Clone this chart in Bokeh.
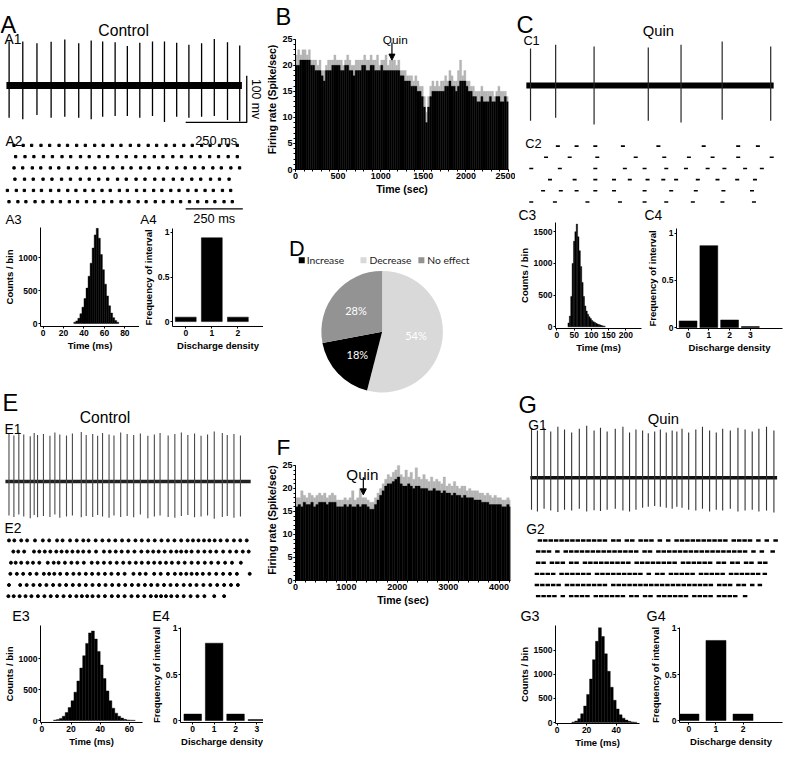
import math
from bokeh.plotting import figure
from bokeh.models import Range1d, Label, Arrow, NormalHead, FixedTicker, AllLabels, Title
from bokeh.layouts import row, column
from bokeh.embed import file_html
from bokeh.resources import INLINE

# ====================== DATA ======================
# A1 control recording: spike times (ms), peak and trough (mV)
a1_spike_ms = [7, 63, 121, 179, 235, 292, 343, 390, 441, 491, 542, 594, 643, 693, 743, 795, 847, 901, 951]
a1_spike_top = [94, 94, 90, 93, 98, 90, 96, 94, 92, 84, 91, 94, 94, 91, 87, 90, 99, 92, 85]
a1_spike_bot = [-69, -72, -63, -69, -67, -69, -72, -67, -65, -65, -69, -65, -78, -67, -69, -67, -65, -74, -77]
a1_span_ms = [-4, 960]
# A2 raster (ms), 6 sweeps
a2_rows = [
    [29, 69, 106, 147, 185, 226, 263, 303, 341, 382, 419, 459, 497, 538, 575, 616, 653, 694, 731, 772, 809, 850, 887, 928, 965, 1006],
    [36, 77, 116, 158, 197, 239, 277, 320, 358, 401, 439, 481, 520, 562, 601, 643, 681, 724, 762, 805, 843, 885, 924, 966, 1006],
    [29, 67, 109, 146, 188, 225, 267, 304, 346, 383, 425, 462, 504, 541, 583, 620, 662, 699, 741, 778, 820, 857, 899, 936, 978, 1016],
    [33, 75, 113, 156, 195, 237, 276, 319, 358, 400, 439, 482, 520, 563, 602, 645, 683, 726, 765, 807, 846, 889, 928, 970],
    [0, 39, 74, 114, 149, 189, 225, 264, 300, 339, 375, 414, 450, 490, 525, 565, 600, 640, 676, 715, 751, 790, 826, 865, 901, 941, 977],
    [7, 46, 81, 121, 156, 196, 232, 271, 307, 346, 382, 421, 457, 497, 532, 572, 607, 647, 683, 722, 758, 797, 833, 872, 908, 948, 984],
]
# A3 inter-spike interval histogram (2 ms bins)
a3_bin_ms = [30, 32, 34, 36, 38, 40, 42, 44, 46, 48, 50, 52, 54, 56, 58, 60, 62, 64, 66, 68, 70, 72]
a3_counts = [20, 40, 80, 150, 250, 380, 540, 720, 920, 1150, 1350, 1450, 1300, 1050, 820, 600, 420, 270, 160, 90, 45, 20]
# A4 discharge density
a4_density = [0, 1, 2]
a4_freq = [0.05, 0.94, 0.05]

# B firing rate (25 s bins)
b_bin_s = 25
b_rate = [20, 20, 21, 21, 21, 21, 21, 20, 20, 19,
          19, 19, 18, 17, 19, 19, 19, 20, 20, 20,
          20, 19, 19, 20, 20, 19, 19, 18, 19, 19,
          19, 20, 20, 19, 19, 20, 20, 19, 19, 19,
          20, 19, 19, 19, 19, 19, 19, 19, 19, 18,
          18, 17, 17, 17, 16, 16, 16, 15, 15, 14,
          12, 9, 12, 14, 15, 15, 15, 15, 15, 15,
          16, 16, 17, 16, 16, 15, 16, 17, 17, 17,
          16, 15, 15, 14, 14, 13, 13, 14, 13, 13,
          13, 14, 13, 13, 14, 14, 13, 13, 14, 13]
b_peak = [22, 23, 22, 23, 23, 22, 23, 21, 21, 21,
          20, 21, 19, 19, 20, 21, 21, 21, 22, 21,
          21, 21, 20, 21, 22, 21, 20, 20, 21, 21,
          21, 21, 22, 21, 21, 22, 21, 21, 22, 20,
          21, 21, 22, 20, 21, 21, 21, 20, 21, 19,
          19, 19, 18, 18, 18, 17, 18, 17, 16, 16,
          14, 11, 14, 16, 17, 16, 17, 16, 17, 17,
          18, 17, 19, 18, 17, 17, 19, 21, 18, 19,
          17, 17, 16, 16, 15, 15, 15, 16, 15, 15,
          15, 15, 15, 14, 15, 16, 15, 15, 15, 14]
b_quin_s = 1132

# C1 quinpirole recording
c1_spike_ms = [17, 119, 275, 495, 628, 795, 992]
c1_spike_top = [79, 87, 83, 81, 87, 94, 83]
c1_spike_bot = [-75, -69, -83, -75, -79, -73, -75]
c1_span_ms = [0, 1004]
c2_rows = [
    [128, 204, 280, 392, 536, 720, 860, 940],
    [80, 176, 288, 444, 560, 660, 756, 860, 996],
    [20, 136, 280, 400, 480, 568, 648, 736, 804, 888, 956],
    [96, 196, 280, 356, 420, 492, 556, 608, 696, 776, 856, 928],
    [68, 140, 204, 280, 356, 480, 588, 688, 800, 916],
    [20, 116, 248, 380, 480, 568, 676, 796, 924],
]
c3_bin_ms = [32, 36, 40, 44, 48, 52, 56, 60, 64, 68, 72, 76, 80, 84, 88, 92, 96, 100, 104, 108, 112, 116, 120, 124, 128, 132, 136]
c3_counts = [60, 170, 480, 1000, 1350, 1500, 1620, 1420, 1200, 950, 700, 480, 330, 250, 200, 160, 130, 100, 80, 70, 55, 45, 35, 30, 20, 15, 10]
c4_density = [0, 1, 2, 3]
c4_freq = [0.07, 0.87, 0.08, 0.01]

# D pie
d_labels = ["Increase", "Decrease", "No effect"]
d_pct = [18, 54, 28]
d_colors = ["#000000", "#d9d9d9", "#939393"]
d_order = [1, 0, 2]  # clockwise from 12 o'clock

# E1 control recording
e1_spike_ms = [18, 43, 68, 93, 126, 146, 163, 193, 226, 251, 276, 310, 340, 385, 410, 443, 468, 493, 526, 551,
               585, 618, 651, 685, 723, 756, 785, 826, 860, 893, 926, 960, 993, 1026, 1060, 1101, 1126, 1160, 1193]
e1_spike_top = [102, 98, 104, 100, 96, 103, 99, 101, 97, 104, 100, 98, 102, 105, 99, 101, 97, 103, 100, 98,
                104, 101, 99, 102, 97, 100, 103, 98, 101, 104, 99, 102, 97, 100, 106, 103, 99, 101, 98]
e1_spike_bot = [-72, -75, -70, -74, -78, -71, -76, -73, -75, -70, -77, -74, -72, -76, -73, -75, -71, -74, -77, -72,
                -75, -73, -76, -70, -78, -74, -72, -75, -77, -73, -71, -76, -74, -72, -79, -75, -73, -77, -74]
e1_span_ms = [0, 1245]
e2_rows = [
    [18, 45, 80, 110, 150, 190, 222, 262, 290, 328, 362, 395, 422, 458, 492, 525, 558, 592, 625, 660, 692, 725, 758, 792, 825, 858, 892, 925, 952, 980, 1008, 1035, 1062, 1092, 1125, 1160, 1192, 1225],
    [40, 65, 95, 145, 172, 200, 228, 258, 285, 312, 340, 368, 395, 425, 460, 500, 530, 560, 590, 622, 655, 690, 722, 750, 778, 808, 840, 868, 892, 918, 945, 978, 1010, 1040, 1070, 1105, 1140, 1172, 1205, 1235],
    [28, 52, 80, 112, 140, 172, 215, 245, 270, 302, 335, 365, 398, 438, 468, 500, 532, 565, 598, 630, 662, 692, 725, 755, 785, 815, 845, 878, 910, 945, 978, 1012, 1045, 1080, 1115, 1150, 1195],
    [25, 58, 90, 125, 158, 195, 222, 248, 278, 312, 345, 375, 408, 440, 472, 505, 538, 572, 605, 650, 682, 712, 755, 788, 825, 860, 890, 918, 945, 972, 1002, 1035, 1070, 1105, 1140, 1175, 1240],
    [18, 75, 108, 142, 175, 208, 242, 275, 308, 342, 375, 408, 442, 475, 508, 542, 575, 608, 642, 675, 708, 740, 772, 805, 838, 870, 905, 938, 970, 1005, 1040, 1075, 1110, 1145, 1180],
    [15, 42, 72, 102, 132, 165, 198, 230, 262, 295, 328, 360, 388, 415, 442, 472, 505, 540, 572, 605, 640, 672, 705, 738, 765, 790, 815, 842, 872, 905, 940, 975, 1010, 1060, 1110],
]
e3_bin_ms = [8, 10, 12, 14, 16, 18, 20, 22, 24, 26, 28, 30, 32, 34, 36, 38, 40, 42, 44, 46, 48, 50, 52, 54, 56, 58, 60, 62]
e3_counts = [8, 15, 35, 70, 130, 210, 320, 460, 640, 850, 1050, 1250, 1420, 1450, 1320, 1120, 900, 680, 480, 320, 200, 120, 70, 40, 20, 10, 6, 4]
e4_density = [0, 1, 2, 3]
e4_freq = [0.07, 0.84, 0.07, 0.01]

# F firing rate (50 s bins)
f_bin_s = 50
f_rate = [16, 16.5, 16, 17, 16.5, 16.5, 17, 16, 16.5, 17,
          17, 17, 16.5, 17, 17, 17, 16, 16, 16, 16.5,
          16, 16.5, 16, 16, 16.5, 16, 16.5, 16.5, 16, 15.5,
          15.5, 16.5, 17.5, 18.5, 19.5, 20.5, 21, 21, 21.5, 22,
          22.5, 21, 20.5, 20.5, 21, 20.5, 20, 20.5, 20.5, 20,
          20, 20, 19.5, 19.5, 20, 19.5, 19.5, 19, 19.5, 19,
          19, 18.5, 19, 18.5, 18.5, 18, 18.5, 18, 18, 18,
          17.5, 17.5, 17.5, 17, 17, 17, 16.5, 16.5, 16.5, 16.5,
          16.5, 16, 16, 16.5, 16]
f_peak = [18, 18, 19.5, 18.5, 18, 19, 18.5, 18, 18.5, 19,
          18.5, 19, 18, 18.5, 19, 18.5, 17.5, 17.5, 17.5, 18,
          17.5, 18, 19.5, 17.5, 18, 20, 18, 18, 17.5, 17,
          17, 18, 19, 20, 21, 22, 23, 22.5, 23.5, 24,
          25, 23, 22.5, 24, 22.5, 23.5, 22, 24.5, 22.5, 22,
          23, 22, 21.5, 22.5, 21.5, 22, 21.5, 21, 22.5, 20.5,
          21, 20.5, 21.5, 20.5, 20, 20.5, 20.5, 19.5, 20, 19.5,
          19.5, 19.5, 19, 19, 18.5, 19, 18.5, 18, 18.5, 18,
          18, 17.5, 17.5, 18, 17.5]
f_quin_s = 1333

# G1 quinpirole recording
g1_spike_ms = [13, 37, 64, 91, 120, 147, 176, 207, 237, 267, 293, 320, 353, 384, 411, 437, 464, 487, 513, 536,
               560, 584, 603, 624, 651, 680, 707, 736, 763, 789, 820, 851, 880, 909, 936, 967, 997]
g1_spike_top = [104, 100, 106, 98, 108, 102, 96, 104, 110, 100, 106, 98, 104, 108, 96, 102, 100, 94, 98, 102,
                96, 100, 98, 104, 96, 102, 108, 100, 96, 104, 100, 106, 102, 98, 104, 108, 100]
g1_spike_bot = [-68, -72, -66, -70, -73, -68, -70, -66, -72, -69, -71, -68, -66, -70, -72, -68, -64, -62, -60, -62,
                -64, -66, -62, -64, -68, -70, -66, -72, -68, -70, -66, -72, -70, -68, -72, -70, -74]
g1_span_ms = [8, 1010]
g2_rows = [
    [47, 69, 91, 113, 135, 157, 179, 201, 223, 245, 267, 289, 311, 345, 367, 400, 422, 456, 478, 500, 534, 568, 602, 624, 646, 668, 690, 712, 734, 756, 778, 800, 834, 856, 878, 900, 934, 968, 1004],
    [40, 62, 84, 118, 152, 174, 196, 218, 240, 262, 284, 306, 328, 350, 372, 394, 416, 438, 472, 494, 528, 550, 572, 594, 616, 638, 660, 682, 704, 726, 748, 770, 792, 814, 836, 858, 880, 914, 948, 992],
    [40, 62, 96, 118, 140, 174, 196, 230, 252, 274, 296, 318, 340, 362, 384, 406, 440, 462, 484, 506, 528, 550, 572, 594, 628, 650, 672, 694, 716, 738, 772, 794, 828, 850, 884, 906, 940, 962],
    [35, 57, 79, 101, 135, 157, 179, 201, 223, 245, 279, 301, 323, 345, 367, 389, 411, 433, 455, 489, 523, 545, 579, 601, 623, 645, 667, 701, 723, 745, 767, 789, 823, 845, 867, 889, 911, 933, 960],
    [35, 57, 79, 101, 123, 157, 179, 201, 223, 245, 267, 289, 311, 345, 367, 389, 411, 433, 455, 477, 499, 521, 543, 565, 587, 609, 631, 653, 675, 697, 719, 741, 775, 797, 819, 853, 875, 909, 940],
    [40, 62, 84, 106, 140, 174, 196, 218, 240, 274, 296, 318, 340, 362, 384, 418, 440, 474, 496, 530, 552, 574, 596, 618, 640, 674, 696, 718, 740, 774, 796, 818, 840, 880],
]
g3_bin_ms = [10, 12, 14, 16, 18, 20, 22, 24, 26, 28, 30, 32, 34, 36, 38, 40, 42, 44, 46, 48, 50, 52]
g3_counts = [10, 30, 80, 180, 340, 580, 900, 1300, 1680, 1960, 1780, 1420, 1060, 730, 460, 280, 160, 90, 50, 25, 12, 6]
g4_density = [0, 1, 2]
g4_freq = [0.07, 0.87, 0.07]

SCALE_MS = 250
SCALE_MV = 100

# ====================== LAYOUT HELPERS ======================
F_REG = "Liberation Sans"
F_AX = "Liberation Sans"
F_PIE = "Lato"
SX = 784.0 / 797.0
SY = 752.0 / 768.0
COL1, COL2 = 270, 527   # column boundaries (reference px)


def LX(r):
    return int(round((r - 3) * SX))


def LY(r):
    return int(round(r * SY))


def lin(p0, v0, p1, v1):
    k = (v1 - v0) / (p1 - p0)
    return lambda p: v0 + (p - p0) * k


def panel(box, fx, fy, frame=None, axes=False, letter=None, letter_x=None, letter_size=24):
    x0, x1, y0, y1 = box
    fr = frame or box
    p = figure(width=LX(x1) - LX(x0), height=LY(y1) - LY(y0),
               x_range=Range1d(fx(fr[0]), fx(fr[1])), y_range=Range1d(fy(fr[3]), fy(fr[2])),
               output_backend="svg", toolbar_location=None,
               title_location="above" if letter else None,
               x_axis_location="below" if axes else None,
               y_axis_location="left" if axes else None,
               min_border=0,
               min_border_left=LX(fr[0]) - LX(x0), min_border_right=LX(x1) - LX(fr[1]),
               min_border_top=LY(fr[2]) - LY(y0), min_border_bottom=LY(y1) - LY(fr[3]))
    if letter:
        # panel letter drawn as the plot title, sitting left of the frame
        p.title = Title(text=letter, align="left", offset=LX(letter_x) - LX(fr[0]),
                        standoff=0, text_font=F_REG, text_font_style="normal",
                        text_font_size="%.1fpx" % (letter_size * SX), text_color="black")
    p.outline_line_color = None
    p.grid.visible = False
    p.border_fill_color = "white"
    p.background_fill_color = "white"
    return p


def solo(p):
    # own container, so that sibling plot frames are not aligned with each other
    return column(p)


def txt(p, fx, fy, x, y, s, size, font=F_REG, align="left", baseline="alphabetic",
        style="normal", color="black", angle=0.0):
    p.add_layout(Label(x=fx(x), y=fy(y), text=s, text_font=font,
                       text_font_size="%.1fpx" % (size * SX), text_align=align,
                       text_baseline=baseline, text_font_style=style,
                       text_color=color, angle=angle))


def style_axes(p, xticks, yticks, xlabel, ylabel, xminor=None, yminor=None,
               xover=None, yover=None, tick_size=8.5, label_size=9.5):
    p.xaxis.ticker = FixedTicker(ticks=xticks, minor_ticks=xminor or [])
    p.yaxis.ticker = FixedTicker(ticks=yticks, minor_ticks=yminor or [])
    if xover:
        p.xaxis.major_label_overrides = xover
    if yover:
        p.yaxis.major_label_overrides = yover
    p.xaxis.axis_label = xlabel
    p.yaxis.axis_label = ylabel
    for ax in (p.xaxis, p.yaxis):
        ax.major_label_policy = AllLabels()
        ax.axis_line_color = "black"
        ax.axis_line_width = 1
        ax.major_tick_line_color = "black"
        ax.major_tick_in = 0
        ax.major_tick_out = 2
        ax.minor_tick_line_color = "black"
        ax.minor_tick_in = 0
        ax.minor_tick_out = 2
        ax.major_label_text_font = F_AX
        ax.major_label_text_font_style = "bold"
        ax.major_label_text_font_size = "%.1fpx" % tick_size
        ax.major_label_text_color = "black"
        ax.major_label_standoff = 1
        ax.axis_label_text_font = F_AX
        ax.axis_label_text_font_style = "bold"
        ax.axis_label_text_font_size = "%.1fpx" % label_size
        ax.axis_label_text_color = "black"
        ax.axis_label_standoff = 1


def trace(p, t, top, bot, span, band, spike_color, spike_w, band_color="black"):
    p.line(x=span, y=[0, 0], line_color=band_color, line_width=band)
    p.segment(x0=t, y0=bot, x1=t, y1=top, line_color=spike_color, line_width=spike_w)


def raster(p, rows, marker, size, lw=1.0):
    xs, ys = [], []
    for i, r in enumerate(rows, 1):
        xs += r
        ys += [i] * len(r)
    p.scatter(x=xs, y=ys, marker=marker, size=size, color="black", line_width=lw)


def hist(p, starts, counts, width):
    p.vbar(x=[s + width / 2.0 for s in starts], top=counts, width=width, bottom=0,
           fill_color="black", line_color="black", line_width=0.4)


def bars(p, xs, ys, width):
    p.vbar(x=xs, top=ys, width=width, bottom=0, fill_color="black", line_color="black",
           line_width=0.5)


def scalebar(p, fx, fy, x_end_ref, y_ref, with_vertical):
    xe = fx(x_end_ref)
    yb = fy(y_ref)
    if with_vertical:
        p.line(x=[xe - SCALE_MS, xe, xe], y=[yb, yb, yb + SCALE_MV], line_color="black", line_width=1.3)
    else:
        p.line(x=[xe - SCALE_MS, xe], y=[yb, yb], line_color="black", line_width=1.3)


# ====================== LEFT COLUMN ======================
fxA1 = lin(10, 0, 72, 250)
fyA1 = lin(87, 0, 39, 100)
pA1 = panel((3, COL1, 0, 126), fxA1, fyA1)
trace(pA1, a1_spike_ms, a1_spike_top, a1_spike_bot, a1_span_ms, 7, "black", 1.3)
scalebar(pA1, fxA1, fyA1, 253, 125, True)
txt(pA1, fxA1, fyA1, 3, 25, "A", 24)
txt(pA1, fxA1, fyA1, 128, 31, "Control", 16, align="center")
txt(pA1, fxA1, fyA1, 7, 40, "A1", 14)
txt(pA1, fxA1, fyA1, 262, 101, "100 mv", 12.5, align="center", baseline="middle", angle=-math.pi / 2)

fxA2 = lin(10, 0, 68, 250)
fyA2 = lin(148.3, 1, 205.7, 6)
pA2 = panel((3, COL1, 126, 232), fxA2, fyA2)
raster(pA2, a2_rows, "square", 2.3)
scalebar(pA2, fxA2, fyA2, 249, 213, False)
txt(pA2, fxA2, fyA2, 222, 143, "250 ms", 13, align="center")
txt(pA2, fxA2, fyA2, 8, 144, "A2", 14)
txt(pA2, fxA2, fyA2, 220, 223, "250 ms", 13, align="center")
txt(pA2, fxA2, fyA2, 8, 223.5, "A3", 13.5)
txt(pA2, fxA2, fyA2, 145, 223.5, "A4", 13.5)

fxA3 = lin(32, 0, 127, 80)
fyA3 = lin(330, 0, 263, 1000)
pA3 = panel((3, 144, 232, 386), fxA3, fyA3, frame=(29, 144, 232, 333), axes=True)
hist(pA3, a3_bin_ms, a3_counts, 2)
style_axes(pA3, [0, 20, 40, 60, 80], [0, 500, 1000], "Time (ms)", "Counts / bin")

fxA4 = lin(182, 0, 211.5, 1)
fyA4 = lin(328, 0, 237, 1)
pA4 = panel((144, COL1, 232, 386), fxA4, fyA4, frame=(167, COL1, 233, 333), axes=True)
bars(pA4, a4_density, a4_freq, 0.8)
style_axes(pA4, [0, 1, 2], [0, 0.5, 1], "Discharge density", "Frequency of interval",
           yover={0: "0", 0.5: "0.5", 1: "1"})

fxE1 = lin(8, 0, 9, 5)
fyE1 = lin(491, 0, 443, 100)
pE1 = panel((3, COL1, 386, 548), fxE1, fyE1)
trace(pE1, e1_spike_ms, e1_spike_top, e1_spike_bot, e1_span_ms, 3.5, "#4a4a4a", 1.1, band_color="#222222")
txt(pE1, fxE1, fyE1, 5, 411, "E", 24)
txt(pE1, fxE1, fyE1, 109, 426, "Control", 16, align="center")
txt(pE1, fxE1, fyE1, 7, 438, "E1", 14)
txt(pE1, fxE1, fyE1, 7, 539, "E2", 14)

fyE2 = lin(551, 1, 608, 6)
pE2 = panel((3, COL1, 548, 636), fxE1, fyE2)
raster(pE2, e2_rows, "circle", 3.0)
txt(pE2, fxE1, fyE2, 15, 628.5, "E3", 14.5)
txt(pE2, fxE1, fyE2, 157, 628.5, "E4", 14.5)

fxE3 = lin(37.5, 0, 132.7, 60)
fyE3 = lin(735, 0, 672, 1000)
pE3 = panel((3, 152, 636, 768), fxE3, fyE3, frame=(36, 147, 638, 737), axes=True)
hist(pE3, e3_bin_ms, e3_counts, 2)
style_axes(pE3, [0, 20, 40, 60], [0, 500, 1000], "Time (ms)", "Counts / bin")

fxE4 = lin(189, 0, 213.5, 1)
fyE4 = lin(735, 0, 641, 1)
pE4 = panel((152, COL1, 636, 768), fxE4, fyE4, frame=(175, COL1, 640, 737), axes=True)
bars(pE4, e4_density, e4_freq, 0.82)
style_axes(pE4, [0, 1, 2, 3], [0, 0.5, 1], "Discharge density", "Frequency of interval",
           yover={0: "0", 0.5: "0.5", 1: "1"})

left = column(solo(pA1), solo(pA2), row(solo(pA3), solo(pA4)),
              solo(pE1), solo(pE2), row(solo(pE3), solo(pE4)))

# ====================== MIDDLE COLUMN ======================
fxB = lin(297, 0, 519, 2500)
fyB = lin(173, 0, 40, 25)
pB = panel((COL1, COL2, 0, 207), fxB, fyB, frame=(297, 519, 30, 173), axes=True,
           letter="B", letter_x=276)
b_x = [i * b_bin_s + b_bin_s / 2.0 for i in range(len(b_rate))]
pB.vbar(x=b_x, top=b_peak, width=b_bin_s, bottom=0, fill_color="#b4b4b4", line_color="#b4b4b4", line_width=0.3)
pB.vbar(x=b_x, top=b_rate, width=b_bin_s, bottom=0, fill_color="black", line_color="black", line_width=0.3)
style_axes(pB, [0, 500, 1000, 1500, 2000, 2500], [0, 5, 10, 15, 20, 25],
           "Time (sec)", "Firing rate (Spike/sec)",
           xminor=list(range(0, 2501, 100)), yminor=list(range(0, 26)), tick_size=9, label_size=10.5)
pB.yaxis.bounds = (0, 25)
pB.add_layout(Arrow(end=NormalHead(size=6, fill_color="black", line_color="black"),
                    x_start=b_quin_s, y_start=24.4, x_end=b_quin_s, y_end=21.0,
                    line_color="black", line_width=1.2))
txt(pB, fxB, fyB, 401, 40.5, "Quin", 12, align="center")

fxD = lin(391, 0, 392, 1)
fyD = lin(338, 0, 337, 1)
pD = panel((COL1, COL2, 207, 440), fxD, fyD)
R = 62.0
cum = 0.0
for idx in d_order:
    a0 = math.radians(90 - cum * 3.6)
    a1 = math.radians(90 - (cum + d_pct[idx]) * 3.6)
    pD.wedge(x=0, y=0, radius=R, start_angle=a0, end_angle=a1, direction="clock",
             fill_color=d_colors[idx], line_color=None)
    mid = math.radians(90 - (cum + d_pct[idx] / 2.0) * 3.6)
    pD.add_layout(Label(x=0.56 * R * math.cos(mid), y=0.56 * R * math.sin(mid),
                        text="%d%%" % d_pct[idx], text_font=F_PIE, text_font_size="11px",
                        text_color="white", text_align="center", text_baseline="middle"))
    cum += d_pct[idx]
leg_sq_ref = [309, 372, 431]
leg_tx_ref = [314, 378, 437]
pD.scatter(x=[fxD(v) for v in leg_sq_ref], y=[fyD(265)] * 3, marker="square", size=6,
           fill_color=d_colors, line_color=None)
for i, lab in enumerate(d_labels):
    txt(pD, fxD, fyD, leg_tx_ref[i], 265, lab, 10.5, font=F_PIE, baseline="middle", color="#222222")
txt(pD, fxD, fyD, 296, 253, "D", 22)

fxF = lin(296, 0, 509, 4000)
fyF = lin(592, 0, 475, 25)
pF = panel((COL1, COL2, 440, 768), fxF, fyF, frame=(296, 521, 469, 592), axes=True,
           letter="F", letter_x=276, letter_size=23)
f_x = [i * f_bin_s + f_bin_s / 2.0 for i in range(len(f_rate))]
pF.vbar(x=f_x, top=f_peak, width=f_bin_s, bottom=0, fill_color="#b4b4b4", line_color="#b4b4b4", line_width=0.3)
pF.vbar(x=f_x, top=f_rate, width=f_bin_s, bottom=0, fill_color="black", line_color="black", line_width=0.3)
style_axes(pF, [0, 1000, 2000, 3000, 4000], [0, 5, 10, 15, 20, 25],
           "Time (sec)", "Firing rate (Spike/sec)",
           xminor=list(range(0, 4201, 200)), yminor=list(range(0, 26)), tick_size=9, label_size=10.5)
pF.yaxis.bounds = (0, 25)
pF.add_layout(Arrow(end=NormalHead(size=6, fill_color="black", line_color="black"),
                    x_start=f_quin_s, y_start=22.4, x_end=f_quin_s, y_end=18.6,
                    line_color="black", line_width=1.2))
txt(pF, fxF, fyF, 366, 484, "Quin", 15.5, align="center")

mid_col = column(solo(pB), solo(pD), solo(pF))

# ====================== RIGHT COLUMN ======================
fxC1 = lin(538, 0, 539, 4)
fyC1 = lin(87, 0, 39, 100)
pC1 = panel((COL2, 800, 0, 131), fxC1, fyC1)
trace(pC1, c1_spike_ms, c1_spike_top, c1_spike_bot, c1_span_ms, 6, "#262626", 1.2)
txt(pC1, fxC1, fyC1, 528, 25, "C", 24)
txt(pC1, fxC1, fyC1, 672, 31, "Quin", 15, align="center")
txt(pC1, fxC1, fyC1, 535, 41, "C1", 13)

fyC2 = lin(149, 1, 206, 6)
pC2 = panel((COL2, 800, 131, 227), fxC1, fyC2)
raster(pC2, c2_rows, "dash", 4, lw=1.6)
txt(pC2, fxC1, fyC2, 537, 146, "C2", 13)
txt(pC2, fxC1, fyC2, 530, 220, "C3", 14)
txt(pC2, fxC1, fyC2, 658, 220, "C4", 14)

fxC3 = lin(551.7, 0, 636, 200)
fyC3 = lin(333.3, 0, 301, 500)
pC3 = panel((COL2, 657, 227, 386), fxC3, fyC3, frame=(550, 655, 227, 335), axes=True)
hist(pC3, c3_bin_ms, c3_counts, 4)
style_axes(pC3, [0, 50, 100, 150, 200], [0, 500, 1000, 1500], "Time (ms)", "Counts / bin")

fxC4 = lin(692, 0, 715.3, 1)
fyC4 = lin(334, 0, 238, 1)
pC4 = panel((657, 800, 227, 386), fxC4, fyC4, frame=(679, 798, 233, 335), axes=True)
bars(pC4, c4_density, c4_freq, 0.86)
style_axes(pC4, [0, 1, 2, 3], [0, 0.5, 1], "Discharge density", "Frequency of interval",
           yover={0: "0", 0.5: "0.5", 1: "1"})

fxG1 = lin(540, 0, 541, 4)
fyG1 = lin(487, 0, 439, 100)
pG1 = panel((COL2, 800, 386, 548), fxG1, fyG1)
trace(pG1, g1_spike_ms, g1_spike_top, g1_spike_bot, g1_span_ms, 3.5, "#333333", 1.1, band_color="#111111")
txt(pG1, fxG1, fyG1, 530, 413, "G", 24)
txt(pG1, fxG1, fyG1, 677, 427, "Quin", 15, align="center")
txt(pG1, fxG1, fyG1, 540, 434, "G1", 14)
txt(pG1, fxG1, fyG1, 538, 540, "G2", 14)

fyG2 = lin(551, 1, 608, 6)
pG2 = panel((COL2, 800, 548, 636), fxG1, fyG2)
raster(pG2, g2_rows, "dash", 4.5, lw=2.4)
txt(pG2, fxG1, fyG2, 532, 628.5, "G3", 14.5)
txt(pG2, fxG1, fyG2, 660, 628.5, "G4", 14.5)

fxG3 = lin(547, 0, 623, 40)
fyG3 = lin(737, 0, 663, 1500)
pG3 = panel((COL2, 660, 636, 768), fxG3, fyG3, frame=(545, 653, 638, 738), axes=True)
hist(pG3, g3_bin_ms, g3_counts, 2)
style_axes(pG3, [0, 20, 40], [0, 500, 1000, 1500], "Time (ms)", "Counts / bin")

fxG4 = lin(689, 0, 720.5, 1)
fyG4 = lin(735, 0, 641, 1)
pG4 = panel((660, 800, 636, 768), fxG4, fyG4, frame=(678, 798, 640, 737), axes=True)
bars(pG4, g4_density, g4_freq, 0.74)
style_axes(pG4, [0, 1, 2], [0, 0.5, 1], "Discharge density", "Frequency of interval",
           yover={0: "0", 0.5: "0.5", 1: "1"})

right = column(solo(pC1), solo(pC2), row(solo(pC3), solo(pC4)),
               solo(pG1), solo(pG2), row(solo(pG3), solo(pG4)))

layout = row(left, mid_col, right)

with open("out.html", "w") as f:
    f.write(file_html(layout, INLINE))
